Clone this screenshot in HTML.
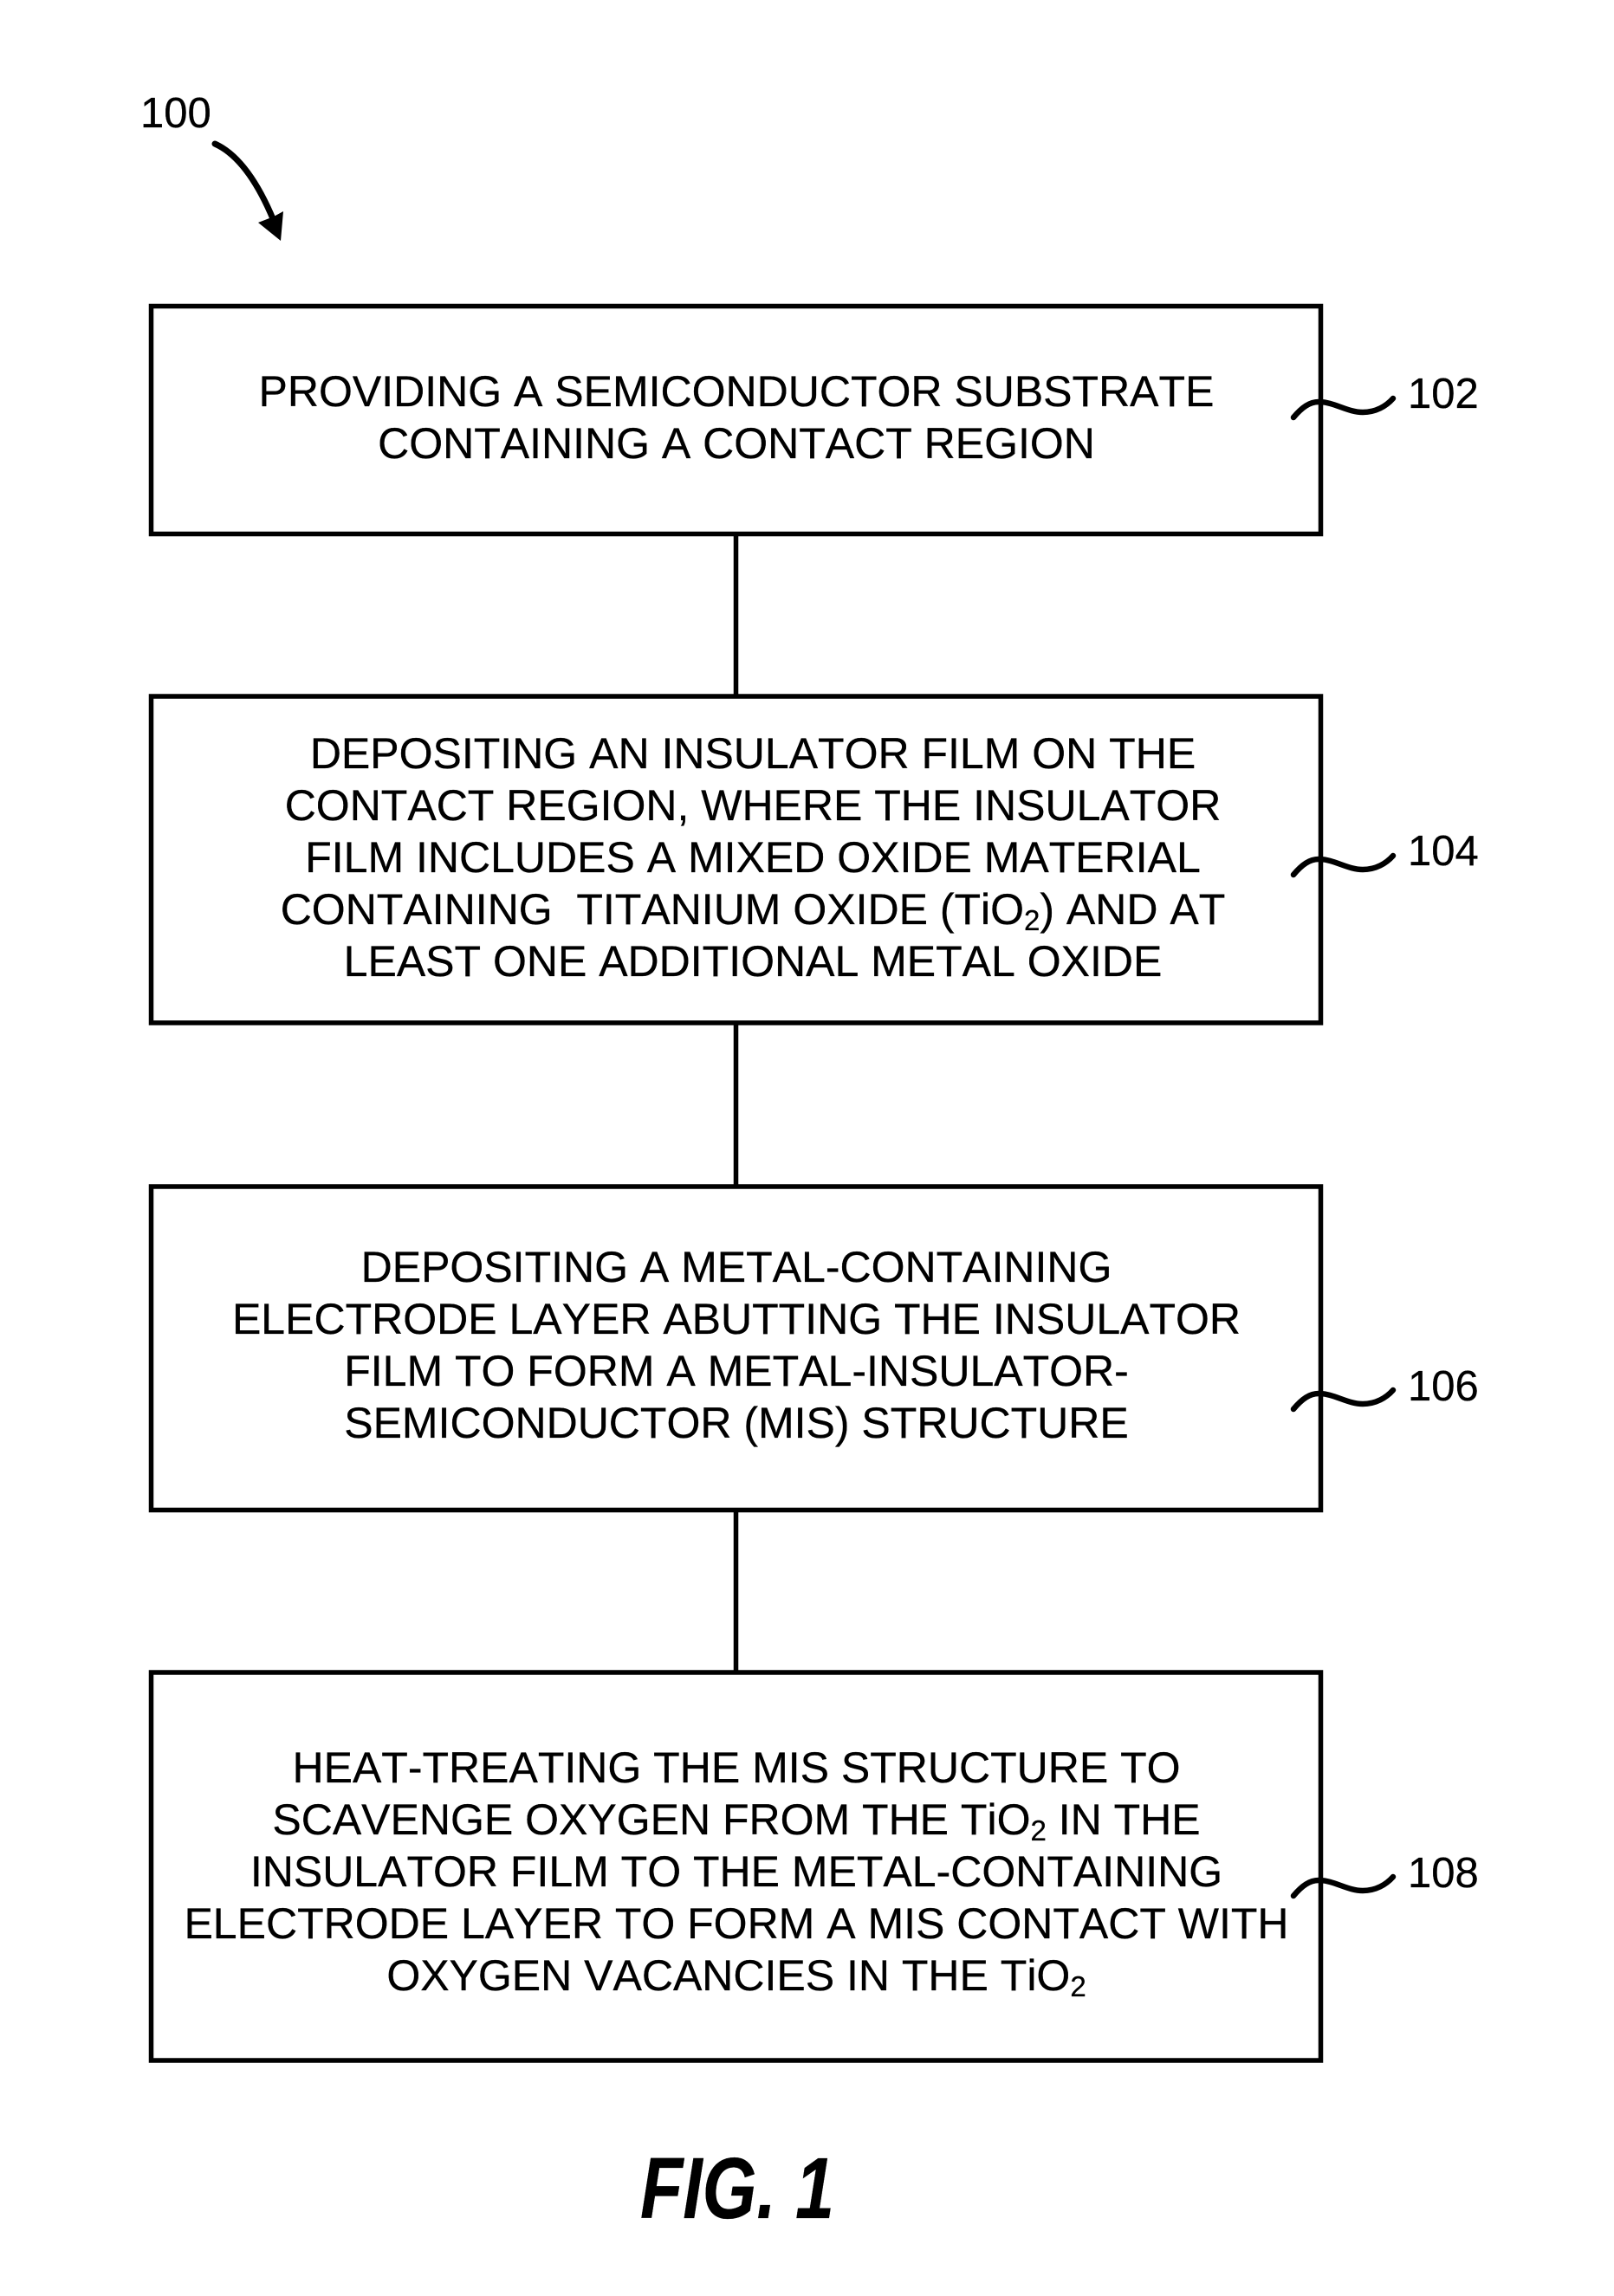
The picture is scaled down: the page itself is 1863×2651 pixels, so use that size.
<!DOCTYPE html>
<html>
<head>
<meta charset="utf-8">
<style>
html,body{margin:0;padding:0;background:#fff;width:1863px;height:2651px;overflow:hidden}
svg{display:block}
text{font-family:"Liberation Sans",Arial,sans-serif;fill:#000;stroke:#000;stroke-width:.3;font-kerning:none}
.t{font-size:50px;text-anchor:middle}
.n{font-size:49px}
.s{font-size:33px}
</style>
</head>
<body>
<svg width="1863" height="2651" viewBox="0 0 1863 2651" xmlns="http://www.w3.org/2000/svg">
<rect width="1863" height="2651" fill="#fff"/>
<g fill="none" stroke="#000" stroke-width="5.5">
<rect x="174.5" y="353.5" width="1350" height="263"/>
<rect x="174.5" y="804" width="1350" height="377"/>
<rect x="174.5" y="1370" width="1350" height="373.5"/>
<rect x="174.5" y="1931" width="1350" height="448"/>
<path d="M849.5 617V804M849.5 1181V1370M849.5 1744V1931"/>
</g>
<g fill="none" stroke="#000" stroke-width="6.5" stroke-linecap="round">
<path d="M1493 482C1503 470,1512 464,1522 464C1540 464,1555 476,1573 476C1588 476,1600 469,1608 460"/>
<path transform="translate(0 528)" d="M1493 482C1503 470,1512 464,1522 464C1540 464,1555 476,1573 476C1588 476,1600 469,1608 460"/>
<path transform="translate(0 1145)" d="M1493 482C1503 470,1512 464,1522 464C1540 464,1555 476,1573 476C1588 476,1600 469,1608 460"/>
<path transform="translate(0 1707)" d="M1493 482C1503 470,1512 464,1522 464C1540 464,1555 476,1573 476C1588 476,1600 469,1608 460"/>
<path stroke-width="7" d="M248 166C268 175,292 197,316 255"/>
</g>
<path d="M298 257L316 250L327 244L324 278Z" fill="#000"/>
<text class="n" x="162" y="147">100</text>
<text class="n" x="1625" y="471">102</text>
<text class="n" x="1625" y="999">104</text>
<text class="n" x="1625" y="1617">106</text>
<text class="n" x="1625" y="2179">108</text>
<text class="t" x="850" y="469">PROVIDING A SEMICONDUCTOR SUBSTRATE</text>
<text class="t" x="850" y="529">CONTAINING A CONTACT REGION</text>
<text class="t" x="869" y="887">DEPOSITING AN INSULATOR FILM ON THE</text>
<text class="t" x="869" y="947">CONTACT REGION, WHERE THE INSULATOR</text>
<text class="t" x="869" y="1007">FILM INCLUDES A MIXED OXIDE MATERIAL</text>
<text class="t" x="869" y="1067" xml:space="preserve">CONTAINING  TITANIUM OXIDE (TiO<tspan class="s" dy="7">2</tspan><tspan dy="-7">) AND AT</tspan></text>
<text class="t" x="869" y="1127">LEAST ONE ADDITIONAL METAL OXIDE</text>
<text class="t" x="850" y="1480">DEPOSITING A METAL-CONTAINING</text>
<text class="t" x="850" y="1540">ELECTRODE LAYER ABUTTING THE INSULATOR</text>
<text class="t" x="850" y="1600">FILM TO FORM A METAL-INSULATOR-</text>
<text class="t" x="850" y="1660">SEMICONDUCTOR (MIS) STRUCTURE</text>
<text class="t" x="850" y="2058">HEAT-TREATING THE MIS STRUCTURE TO</text>
<text class="t" x="850" y="2118">SCAVENGE OXYGEN FROM THE TiO<tspan class="s" dy="7">2</tspan><tspan dy="-7"> IN THE</tspan></text>
<text class="t" x="850" y="2178">INSULATOR FILM TO THE METAL-CONTAINING</text>
<text class="t" x="850" y="2238">ELECTRODE LAYER TO FORM A MIS CONTACT WITH</text>
<text class="t" x="850" y="2298">OXYGEN VACANCIES IN THE TiO<tspan class="s" dy="7">2</tspan></text>
<text x="739" y="2561" font-size="100" font-weight="bold" font-style="italic" textLength="224" lengthAdjust="spacingAndGlyphs">FIG. 1</text>
</svg>
</body>
</html>
